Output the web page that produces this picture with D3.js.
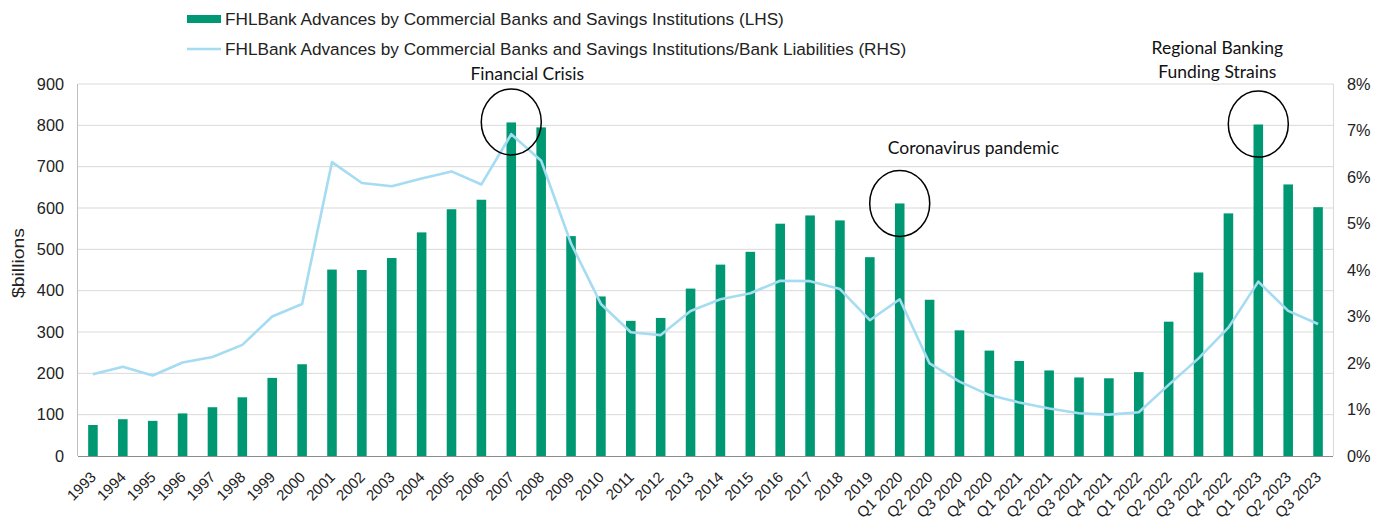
<!DOCTYPE html>
<html><head><meta charset="utf-8">
<script src="https://cdn.jsdelivr.net/npm/d3@7"></script>
<style>
html,body{margin:0;padding:0;background:#fff;}
svg{display:block;}
</style></head>
<body><svg id="chart" width="1375" height="525"></svg>
<script>
const categories = ["1993","1994","1995","1996","1997","1998","1999","2000","2001","2002","2003","2004","2005","2006","2007","2008","2009","2010","2011","2012","2013","2014","2015","2016","2017","2018","2019","Q1 2020","Q2 2020","Q3 2020","Q4 2020","Q1 2021","Q2 2021","Q3 2021","Q4 2021","Q1 2022","Q2 2022","Q3 2022","Q4 2022","Q1 2023","Q2 2023","Q3 2023"];
const advances = [75,89,85,103,118,142,189,222,451,450,479,541,597,620,807,795,532,386,327,334,405,463,494,562,582,570,481,611,378,304,255,230,207,190,188,203,325,444,587,802,657,602];
const ratioPct = [1.76,1.92,1.73,2.01,2.13,2.39,3.00,3.27,6.32,5.87,5.80,5.97,6.12,5.84,6.92,6.35,4.57,3.27,2.66,2.60,3.12,3.37,3.50,3.77,3.76,3.59,2.92,3.37,1.99,1.60,1.31,1.15,1.02,0.92,0.89,0.94,1.53,2.10,2.76,3.75,3.12,2.84];
const leftTicks = [0,100,200,300,400,500,600,700,800,900];
const rightTicks = [0,1,2,3,4,5,6,7,8];
const annotations = [
  {cat:"2007", lines:["Financial Crisis"], value:808},
  {cat:"Q1 2020", lines:["Coronavirus pandemic"], value:611},
  {cat:"Q1 2023", lines:["Regional Banking","Funding Strains"], value:803}
];
const seriesNames = ["FHLBank Advances by Commercial Banks and Savings Institutions (LHS)",
  "FHLBank Advances by Commercial Banks and Savings Institutions/Bank Liabilities (RHS)"];

const GREEN = "#009872", BLUE = "#a5dcf2";
const svg = d3.select("#chart");
const L = 78, R = 1333, T = 84, B = 456;
const x = d3.scaleBand().domain(categories).range([L, R]).paddingInner(0.68).paddingOuter(0.34);
const y = d3.scaleLinear().domain([0, 900]).range([B, T]);
const y2 = d3.scaleLinear().domain([0, 8]).range([B, T]);
const cx = c => x(c) + x.bandwidth() / 2;
const AX = "'Liberation Sans', Arial, sans-serif";
const CAL = "Lato, 'Open Sans', sans-serif";

// gridlines
svg.append("g").selectAll("line").data(leftTicks.filter(d => d > 0)).join("line")
  .attr("x1", L).attr("x2", R).attr("y1", d => y(d)).attr("y2", d => y(d))
  .attr("stroke", "#d9d9d9").attr("stroke-width", 1);
// right frame
svg.append("line").attr("x1", R + 0.5).attr("x2", R + 0.5).attr("y1", T).attr("y2", B).attr("stroke", "#d9d9d9");
// left axis line
svg.append("line").attr("x1", L - 0.5).attr("x2", L - 0.5).attr("y1", T).attr("y2", B).attr("stroke", "#bfbfbf");

// bars
svg.append("g").selectAll("rect").data(categories).join("rect")
  .attr("x", d => x(d)).attr("width", x.bandwidth())
  .attr("y", (d, i) => y(advances[i])).attr("height", (d, i) => B - y(advances[i]))
  .attr("fill", GREEN);

// bottom axis line
svg.append("line").attr("x1", L).attr("x2", R).attr("y1", B + 0.5).attr("y2", B + 0.5).attr("stroke", "#8c8c8c").attr("stroke-width", 1.2);

// line
const line = d3.line().x(d => cx(d.c)).y(d => y2(d.v));
svg.append("path").datum(categories.map((c, i) => ({c, v: ratioPct[i]})))
  .attr("d", line).attr("fill", "none").attr("stroke", BLUE).attr("stroke-width", 2.6).attr("stroke-linejoin", "round");

// left axis
const gl = svg.append("g").attr("transform", `translate(${L},0)`)
  .call(d3.axisLeft(y).tickValues(leftTicks).tickSize(0).tickPadding(14));
gl.select(".domain").remove();
gl.selectAll("text").attr("font-family", AX).attr("font-size", 16.3).attr("fill", "#222");

// right axis
const gr = svg.append("g").attr("transform", `translate(${R},0)`)
  .call(d3.axisRight(y2).tickValues(rightTicks).tickSize(0).tickPadding(14).tickFormat(d => d + "%"));
gr.select(".domain").remove();
gr.selectAll("text").attr("font-family", AX).attr("font-size", 16.3).attr("fill", "#222");

// x axis
const gx = svg.append("g").attr("transform", `translate(0,${B})`)
  .call(d3.axisBottom(x).tickSize(0).tickPadding(0));
gx.select(".domain").remove();
gx.selectAll("text").attr("font-family", AX).attr("font-size", 15).attr("fill", "#222")
  .attr("text-anchor", "end").attr("dy", 0)
  .attr("transform", "translate(4,22) rotate(-45)");

// y title
svg.append("text").attr("transform", `translate(24,263) rotate(-90)`)
  .attr("text-anchor", "middle").attr("font-family", AX).attr("font-size", 17).attr("fill", "#222")
  .attr("textLength", 70).attr("lengthAdjust", "spacingAndGlyphs").text("$billions");

// annotations
annotations.forEach(a => {
  const px = cx(a.cat), py = y(a.value);
  svg.append("ellipse").attr("cx", px).attr("cy", py).attr("rx", 30).attr("ry", 33)
    .attr("fill", "none").attr("stroke", "#000").attr("stroke-width", 1.5);
});
svg.append("text").attr("x", cx("2007") + 16).attr("y", 80).attr("text-anchor", "middle")
  .attr("font-family", CAL).attr("font-size", 17.5).attr("fill", "#111").text(annotations[0].lines[0]);
svg.append("text").attr("x", cx("Q1 2020") - 12).attr("y", 154).attr("text-anchor", "start")
  .attr("font-family", CAL).attr("font-size", 17.5).attr("fill", "#111").text(annotations[1].lines[0]);
annotations[2].lines.forEach((t, i) => {
  svg.append("text").attr("x", cx("Q1 2023") - 41).attr("y", 54 + i * 24).attr("text-anchor", "middle")
    .attr("font-family", CAL).attr("font-size", 17.5).attr("fill", "#111").text(t);
});

// legend
const lg = svg.append("g");
lg.append("rect").attr("x", 187).attr("y", 15).attr("width", 34).attr("height", 8).attr("fill", GREEN);
lg.append("text").attr("x", 225).attr("y", 25).attr("font-family", AX).attr("font-size", 17.2).attr("fill", "#222").text(seriesNames[0]);
lg.append("line").attr("x1", 187).attr("x2", 221).attr("y1", 49).attr("y2", 49).attr("stroke", BLUE).attr("stroke-width", 2.6);
lg.append("text").attr("x", 225).attr("y", 55).attr("font-family", AX).attr("font-size", 17.2).attr("fill", "#222").text(seriesNames[1]);
</script></body></html>
